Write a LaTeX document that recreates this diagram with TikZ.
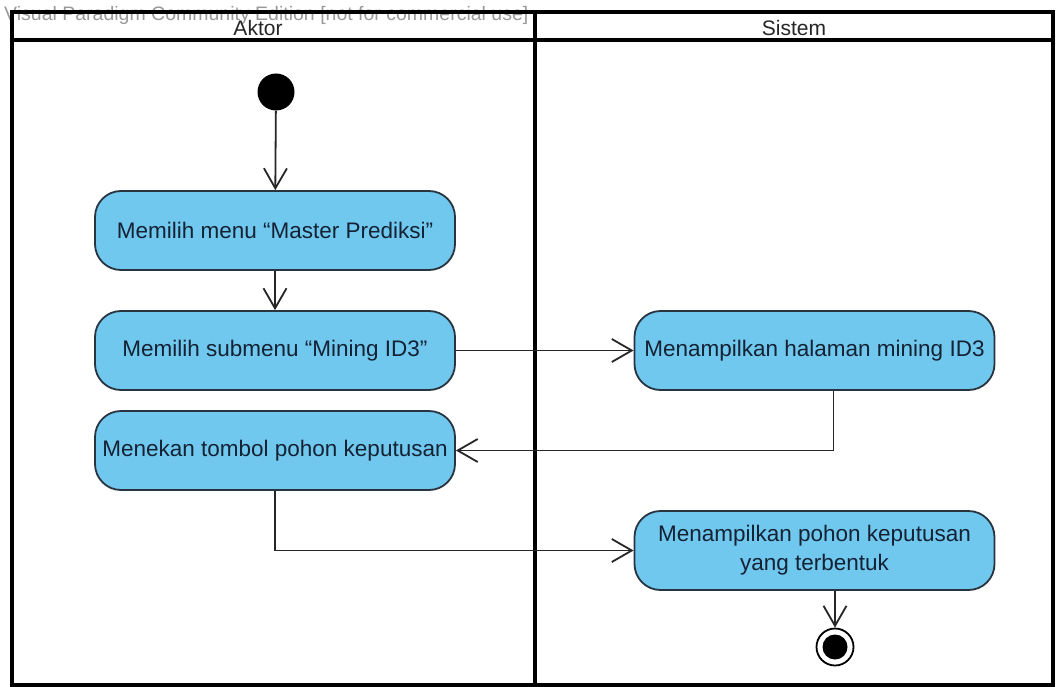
\documentclass[tikz,border=0pt]{standalone}
\usepackage{fontspec}
\setmainfont{Liberation Sans}
\usetikzlibrary{arrows.meta}
\definecolor{actfill}{RGB}{112,200,238}
\definecolor{actline}{RGB}{40,52,64}
\definecolor{acttext}{RGB}{20,34,52}
\begin{document}
\begin{tikzpicture}[x=1pt,y=-1pt,
  activity/.style={draw=actline, line width=1.8pt, fill=actfill, rounded corners=26pt,
    minimum width=360pt, minimum height=79pt, align=center, text=acttext,
    font=\fontsize{22.5}{29}\selectfont, inner sep=0pt},
  flow/.style={draw=black!85, line width=1.8pt, -{Straight Barb[length=20pt,width=23pt,line width=1.8pt]}},
  lane/.style={draw=black, line width=3.4pt},
  lanehead/.style={font=\fontsize{21}{24}\selectfont, text=black!85}
]
\useasboundingbox (0,0) rectangle (1056,687);
\fill[white] (0,0) rectangle (1056,687);

% tool banner
\node[anchor=west, text=black!40, font=\fontsize{19.5}{21}\selectfont, inner sep=0pt] (banner) at (4,15) {Visual Paradigm Community Edition [not for commercial use]};

% swimlanes
\draw[lane] (12,12) rectangle (1053,685);
\draw[lane] (12,40) -- (1053,40);
\draw[lane] (535,12) -- (535,685);
\node[lanehead] (aktor) at (258,28) {Aktor};
\node[lanehead] (sistem) at (794,28) {Sistem};

% initial and final states
\node[circle, fill=black, minimum size=37pt, inner sep=0pt] (start) at (276,92) {};
\node[circle, draw=black, line width=1.8pt, fill=white, minimum size=37pt, inner sep=0pt] (end) at (835,647) {};
\node[circle, fill=black, minimum size=25pt, inner sep=0pt] (endcore) at (835,647) {};

% actions
\node[activity] (menu) at (275,230.5) {Memilih menu “Master Prediksi”};
\node[activity] (submenu) at (275,350.5) {Memilih submenu “Mining ID3”};
\node[activity] (tombol) at (275,450.5) {Menekan tombol pohon keputusan};
\node[activity] (halaman) at (814.5,350.5) {Menampilkan halaman mining ID3};
\node[activity] (pohon) at (814.5,550.5) {Menampilkan pohon keputusan\\yang terbentuk};

% control flows
\draw[flow] (start) -- (menu);
\draw[flow] (menu) -- (submenu);
\draw[flow] (submenu) -- (halaman);
\draw[flow] ([xshift=19pt]halaman.south) |- (tombol.east);
\draw[flow] (tombol.south) |- (pohon.west);
\draw[flow] ([xshift=20.5pt]pohon.south) -- (end);
\end{tikzpicture}
\end{document}
